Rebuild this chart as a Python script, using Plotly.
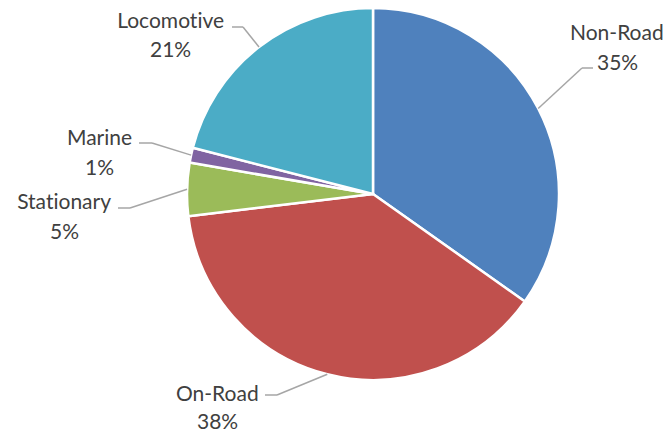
import math
import plotly.graph_objects as go

# ---- data ----
categories = ["Non-Road", "On-Road", "Stationary", "Marine", "Locomotive"]
values = [34.8, 38.3, 4.6, 1.3, 21.0]
colors = ["#4F81BD", "#C0504D", "#9BBB59", "#8064A2", "#4BACC6"]

# ---- layout constants (pixels) ----
W, H = 671, 432
CX, CY, R = 373, 194, 186
FONT = "Lato"
TXT = "#404040"
LEAD = "#A6A6A6"
# label name centre, percent centre, elbow point, line end point (pixels)
label_layout = {
    "Non-Road":   dict(name=(617, 31), pct=(617, 61), elbow=(582, 68), end=(593, 68)),
    "On-Road":    dict(name=(217, 392), pct=(217, 420), elbow=(277, 395), end=(265, 395)),
    "Stationary": dict(name=(64, 200), pct=(64, 230), elbow=(130, 208), end=(118, 208)),
    "Marine":     dict(name=(99, 136), pct=(99, 166), elbow=(152, 143), end=(139, 143)),
    "Locomotive": dict(name=(170, 20), pct=(170, 48), elbow=(243, 27), end=(232, 27)),
}

def px(x):
    return x / W

def py(y):
    return 1 - y / H

fig = go.Figure(go.Pie(
    labels=categories,
    values=values,
    sort=False,
    direction="clockwise",
    rotation=0,
    marker=dict(colors=colors, line=dict(color="white", width=2.5)),
    textinfo="none",
    hoverinfo="label+percent",
    domain=dict(x=[px(CX - R), px(CX + R)], y=[py(CY + R), py(CY - R)]),
    showlegend=False,
))

total = sum(values)
cum = 0.0
annotations = []
shapes = []
for cat, v in zip(categories, values):
    mid = (cum + v / 2) / total * 360.0
    cum += v
    sx = CX + R * math.sin(math.radians(mid))
    sy = CY - R * math.cos(math.radians(mid))
    lay = label_layout[cat]
    ex, ey = lay["elbow"]
    tx, ty = lay["end"]
    shapes.append(dict(type="line", xref="paper", yref="paper",
                       x0=px(sx), y0=py(sy), x1=px(ex), y1=py(ey),
                       line=dict(color=LEAD, width=1.5)))
    shapes.append(dict(type="line", xref="paper", yref="paper",
                       x0=px(ex), y0=py(ey), x1=px(tx), y1=py(ty),
                       line=dict(color=LEAD, width=1.5)))
    pct = f"{math.floor(v / total * 100 + 0.5)}%"
    for text, (lx, ly) in ((cat, lay["name"]), (pct, lay["pct"])):
        annotations.append(dict(text=text, x=px(lx), y=py(ly), xref="paper", yref="paper",
                                xanchor="center", yanchor="middle", showarrow=False,
                                font=dict(family=FONT, size=21, color=TXT)))

fig.update_layout(
    width=W, height=H,
    margin=dict(l=0, r=0, t=0, b=0),
    paper_bgcolor="white", plot_bgcolor="white",
    annotations=annotations,
    shapes=shapes,
)

post = (
    "document.body.style.margin='0';"
    "var s=document.createElement('style');"
    "s.textContent='text{font-variant-ligatures:none !important;font-feature-settings:\"liga\" 0,\"clig\" 0 !important;}';"
    "document.head.appendChild(s);"
)
fig.write_html("out.html", post_script=post, config={"displayModeBar": False})
